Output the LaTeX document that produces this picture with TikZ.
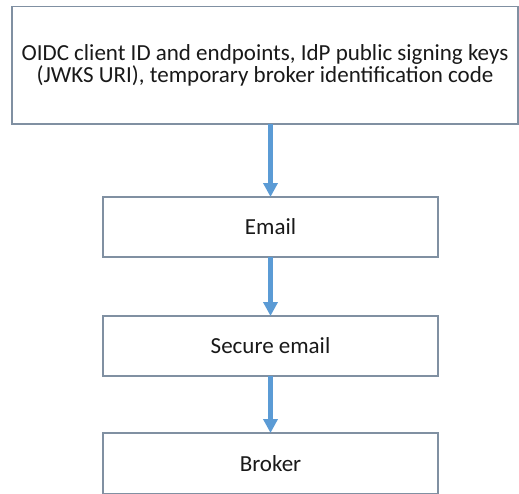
\documentclass[tikz,border=0pt]{standalone}
\usepackage{fontspec}
\setmainfont{Carlito}
\usetikzlibrary{arrows.meta}
\definecolor{boxline}{HTML}{8090A2}
\definecolor{arrowblue}{HTML}{5B9BD5}
\tikzset{
  box/.style={draw=boxline, line width=1.4pt, rectangle, inner sep=0pt, outer sep=0pt,
    align=center, font=\fontsize{23}{22}\selectfont, text=black!90},
  flow/.style={draw=arrowblue, line width=4.5pt, -{Triangle[width=14pt,length=14pt]}}
}
\begin{document}
\begin{tikzpicture}[x=1pt,y=-1pt]
\useasboundingbox (0,0) rectangle (519,493);
\fill[white] (0,0) rectangle (519,493);
\node[box, minimum width=506pt, minimum height=117.5pt] (top) at (265,65.25)
  {OIDC client ID and endpoints, IdP public signing keys\\(JWKS URI), temporary broker identification code};
\node[box, minimum width=335pt, minimum height=60pt] (email) at (270.5,227) {Email};
\node[box, minimum width=335pt, minimum height=60pt] (secure) at (270.5,346) {Secure email};
\node[box, minimum width=335pt, minimum height=61pt] (broker) at (270.5,463.5) {Broker};
\draw[flow] (email.north |- top.south) -- (email.north);
\draw[flow] (email.south) -- (secure.north);
\draw[flow] (secure.south) -- (broker.north);
\end{tikzpicture}
\end{document}
